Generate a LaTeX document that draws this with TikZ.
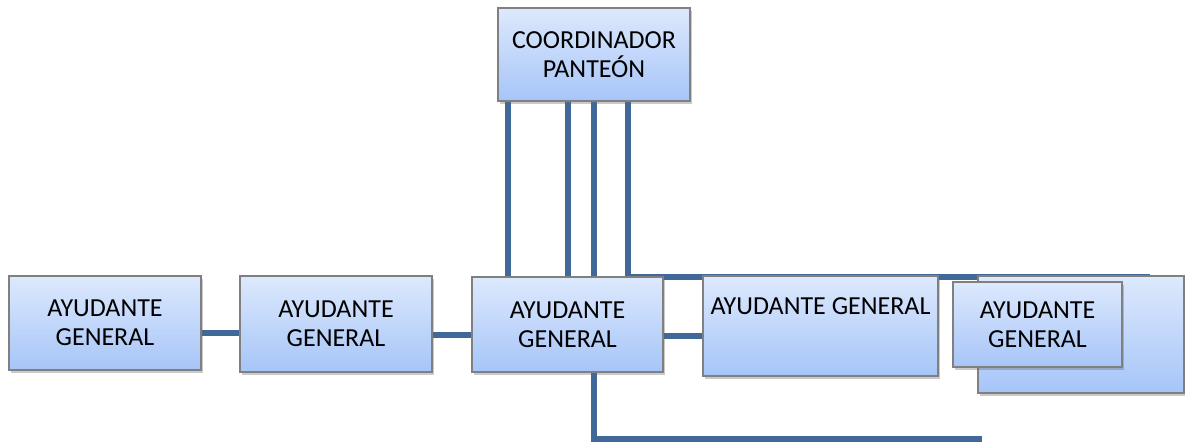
\documentclass[tikz,border=0pt]{standalone}
\usepackage{fontspec}
\setmainfont{Carlito}
\usetikzlibrary{shadows,backgrounds}
\definecolor{linecol}{RGB}{64,104,152}
\definecolor{boxtop}{RGB}{221,233,253}
\definecolor{boxbot}{RGB}{166,197,248}
\definecolor{boxedge}{RGB}{128,128,128}
\tikzset{
  orgbox/.style={rectangle, draw=boxedge, line width=1.2pt, top color=boxtop, bottom color=boxbot,
    drop shadow={shadow xshift=2pt, shadow yshift=-3pt, opacity=0.35, fill=black!60},
    align=center, font=\fontsize{26}{29}\selectfont, inner sep=0pt},
  conn/.style={draw=linecol, line width=6pt}
}
\begin{document}
\begin{tikzpicture}[x=1pt,y=-1pt]
\useasboundingbox (0,0) rectangle (1185,443);
% connector free ends
\coordinate (topend) at (1150,277);
\coordinate (botend) at (982,439);
% boxes
\node[orgbox, minimum width=192pt, minimum height=93pt] (top) at (594,54.5) {COORDINADOR\\PANTEÓN};
\node[orgbox, minimum width=192pt, minimum height=94pt] (b1) at (105,323) {AYUDANTE\\GENERAL};
\node[orgbox, minimum width=192pt, minimum height=96pt] (b2) at (336,324) {AYUDANTE\\GENERAL};
\node[orgbox, minimum width=191pt, minimum height=95pt] (b3) at (567.5,324.5) {AYUDANTE\\GENERAL};
\node[orgbox, minimum width=235pt, minimum height=100pt,
  label={[name=b4l, anchor=north, inner sep=0pt, yshift=-22pt, font=\fontsize{26}{29}\selectfont]north:AYUDANTE GENERAL}] (b4) at (820.5,326) {};
\node[orgbox, minimum width=206pt, minimum height=117pt] (b5back) at (1081,334.5) {};
\node[orgbox, minimum width=169pt, minimum height=85pt] (b5) at (1037.5,324.5) {AYUDANTE\\GENERAL};
% connectors behind the boxes
\begin{scope}[on background layer]
\draw[conn] ([xshift=-86pt]top.south) -- ([xshift=-86pt]top.south |- b3.north);
\draw[conn] ([xshift=-26pt]top.south) -- ([xshift=-26pt]top.south |- b3.north);
\draw[conn] (top.south) -- (top.south |- b3.north);
\draw[conn] ([xshift=34pt]top.south) |- (topend);
\draw[conn] ([yshift=-10pt]b1.east) -- ([yshift=-10pt]b1.east -| b2.west);
\draw[conn] ([yshift=-11pt]b2.east) -- ([yshift=-11pt]b2.east -| b3.west);
\draw[conn] ([yshift=-11.5pt]b3.east) -- ([yshift=-11.5pt]b3.east -| b4.west);
\draw[conn] ([xshift=26.5pt]b3.south) |- (botend);
\end{scope}
\end{tikzpicture}
\end{document}
